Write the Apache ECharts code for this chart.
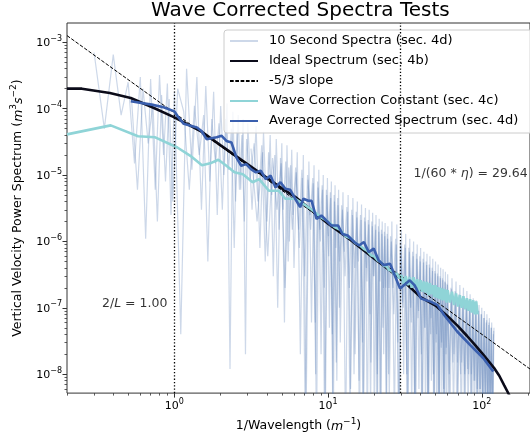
<!DOCTYPE html>
<html>
<head>
<meta charset="utf-8">
<script src="https://cdn.jsdelivr.net/npm/echarts@6/dist/echarts.min.js"></script>
<style>html,body{margin:0;padding:0;background:#fff}#c{width:530px;height:438px}</style>
</head>
<body>
<div id="c"></div>
<script>
// ---------------- data ----------------
const X_MIN = 0.2, X_MAX = 206;
const Y_MIN = 5.2e-9, Y_MAX = 1.95e-3;
const xMajor = [1, 10, 100];
const xMinor = [0.2,0.3,0.4,0.5,0.6,0.7,0.8,0.9,2,3,4,5,6,7,8,9,20,30,40,50,60,70,80,90,200];
const yMajor = [1e-8,1e-7,1e-6,1e-5,1e-4,1e-3];
const yMinor = [6e-9,7e-9,8e-9,9e-9,2e-8,3e-8,4e-8,5e-8,6e-8,7e-8,8e-8,9e-8,2e-7,3e-7,4e-7,5e-7,6e-7,7e-7,8e-7,9e-7,
  2e-6,3e-6,4e-6,5e-6,6e-6,7e-6,8e-6,9e-6,2e-5,3e-5,4e-5,5e-5,6e-5,7e-5,8e-5,9e-5,2e-4,3e-4,4e-4,5e-4,6e-4,7e-4,8e-4,9e-4];

// 10 second spectra (three overlaid spectra)
const specAx = [0.3,0.35,0.4,0.45,0.5,0.55,0.6,0.65,0.7,0.75,0.8,0.85,0.9,0.95,1.0,
  1.1,1.2,1.3,1.4,1.5,1.6,1.7,1.8,1.9,2.0,2.1,2.2,2.3,2.4,2.5,2.6,2.7,2.8,2.9,3.0,
  3.2,3.4,3.6,3.8,4.0,4.2,4.4,4.6,4.8,5.0,5.2,5.4,5.6,5.8,6.0,
  6.3,6.6,6.9,7.2,7.5,7.8,8.1,8.4,8.7,9.0,9.3,9.6,9.9,10.2,10.5,10.8,11.1,11.4,11.7,12.0,
  12.5,13,13.5,14,14.5,15,15.5,16,16.5,17,17.5,18,18.5,19,19.5,20,20.5,21,21.5,22,22.5,23,23.5,24,24.5,25,
  26,27,28,29,30,31,32,33,34,35,36,37,38,39,40,41,42,43,44,45,46,47,48,49,50,51,52,53,54,55,56,57,58,59,60,
  62,64,66,68,70,72,74,76,78,80,82,84,86,88,90,92,94,96,98,100,102,104,106,108,110,112,114,116,118,120];
const specAy = [7e-4,5e-5,6.5e-4,8e-5,2.5e-4,1.5e-5,3e-4,1.1e-6,2.8e-4,6e-6,3.2e-4,2e-5,2.4e-4,2.5e-6,1.8e-4,
  4e-8,4e-4,1.2e-5,3e-4,3e-6,2.2e-4,8e-6,1.8e-4,2.5e-6,1.1e-4,1e-5,1.2e-4,1.2e-8,9e-5,4e-6,8e-5,6e-6,7e-5,2e-8,6e-5,
  3e-6,5.5e-5,8e-7,4.5e-5,2e-6,4e-5,3e-7,3.5e-5,1.5e-6,3e-5,6e-8,2.8e-5,1e-6,2.4e-5,4e-7,
  2.2e-5,2e-8,2e-5,3e-9,1.6e-5,6e-8,1.4e-5,1e-9,1.2e-5,2e-8,1e-5,2e-9,9e-6,5e-8,8e-6,1e-9,7e-6,8e-9,6e-6,3e-8,
  5.5e-6,1e-9,5e-6,6e-9,4.5e-6,2e-8,4e-6,1e-9,3.6e-6,3e-9,3.2e-6,1e-9,3e-6,1.5e-8,2.7e-6,2e-9,2.5e-6,5e-9,2.2e-6,1e-9,2e-6,2e-8,1.9e-6,2e-9,1.7e-6,4e-9,
  2e-6,2e-9,1.8e-6,1e-9,1.5e-6,1e-8,1.3e-6,1e-9,1.1e-6,3e-9,1e-6,1e-9,9e-7,6e-9,8e-7,1e-9,7e-7,4e-9,6.5e-7,1e-9,6e-7,8e-9,5.5e-7,1e-9,5e-7,2e-9,4.5e-7,1e-9,4e-7,5e-9,3.8e-7,1e-9,3.5e-7,1e-9,3.2e-7,
  2e-9,2.8e-7,2e-8,2.5e-7,4e-9,2.2e-7,1.5e-8,2e-7,3e-9,1.8e-7,1e-8,1.6e-7,2e-9,1.4e-7,8e-9,1.3e-7,2e-9,1.1e-7,6e-9,1e-7,1e-9,9e-8,4e-9,8e-8,1e-9,7e-8,3e-9,6e-8,1e-9,5e-8];
const specBx = [0.525,0.575,0.625,0.675,0.725,0.775,0.825,0.875,0.925,0.975,1.05,
  1.15,1.25,1.35,1.45,1.55,1.65,1.75,1.85,1.95,2.05,2.15,2.25,2.35,2.45,2.55,2.65,2.75,2.85,2.95,
  3.1,3.3,3.5,3.7,3.9,4.1,4.3,4.5,4.7,4.9,5.1,5.3,5.5,5.7,5.9,
  6.15,6.45,6.75,7.05,7.35,7.65,7.95,8.25,8.55,8.85,9.15,9.45,9.75,10.05,10.35,10.65,10.95,11.25,11.55,11.85,
  12.25,12.75,13.25,13.75,14.25,14.75,15.25,15.75,16.25,16.75,17.25,17.75,18.25,18.75,19.25,19.75,20.25,20.75,21.25,21.75,22.25,22.75,23.25,23.75,24.25,24.75,
  25.5,26.5,27.5,28.5,29.5,30.5,31.5,32.5,33.5,34.5,35.5,36.5,37.5,38.5,39.5,40.5,41.5,42.5,43.5,44.5,45.5,46.5,47.5,48.5,49.5,50.5,51.5,52.5,53.5,54.5,55.5,56.5,57.5,58.5,59.5,
  61,63,65,67,69,71,73,75,77,79,81,83,85,87,89,91,93,95,97,99,101,103,105,107,109,111,113,115,117,119];
const specBy = [1.5e-4,6e-6,2e-4,3e-5,1.2e-4,2e-6,1.6e-4,8e-6,1.4e-4,4e-6,2e-4,
  9e-5,6e-6,1.1e-4,2e-5,8e-5,5e-7,7e-5,1.5e-5,6e-5,3e-6,7e-5,1.2e-5,5e-5,8e-7,4.5e-5,6e-6,4e-5,2e-6,3.5e-5,
  8e-6,3e-5,4e-6,2.8e-5,5e-7,2.2e-5,5e-6,2e-5,1e-7,1.8e-5,3e-6,1.6e-5,5e-7,1.4e-5,2.5e-6,
  1.3e-5,1.5e-6,1.2e-5,3e-7,1e-5,2.5e-6,9e-6,6e-8,8e-6,1.5e-6,7e-6,2e-7,6e-6,1.2e-6,5.5e-6,4e-8,5e-6,8e-7,4.5e-6,1e-7,
  3.5e-6,7e-7,3.3e-6,2e-7,3e-6,1e-8,2.8e-6,5e-7,2.5e-6,3e-8,2.3e-6,4e-7,2.1e-6,8e-8,2e-6,3e-7,1.8e-6,2e-9,1.7e-6,2.5e-7,1.5e-6,5e-8,1.4e-6,2e-7,1.3e-6,1e-8,
  1.2e-6,2e-7,1.1e-6,3e-8,1e-6,1.2e-7,9e-7,1e-8,8e-7,1e-7,7e-7,5e-9,6.5e-7,7e-8,6e-7,2e-8,5.5e-7,5e-8,5e-7,2e-9,4.5e-7,4e-8,4e-7,1e-8,3.6e-7,3e-8,3.3e-7,3e-9,3e-7,2.5e-8,2.8e-7,6e-9,2.5e-7,2e-8,2.3e-7,
  5e-9,2e-7,1.5e-8,1.8e-7,2e-9,1.6e-7,1e-8,1.5e-7,4e-9,1.3e-7,1.2e-8,1.2e-7,3e-9,1.1e-7,8e-9,1e-7,2e-9,9e-8,6e-9,8e-8,2e-9,7e-8,5e-9,6e-8,1e-9,5.5e-8,3e-9,5e-8,1e-9,4e-8];
const specCx = [3.15,3.45,3.75,4.05,4.35,4.65,4.95,5.25,5.55,5.85,
  6.2,6.5,6.8,7.1,7.4,7.7,8.0,8.3,8.6,8.9,9.2,9.5,9.8,10.1,10.4,10.7,11.0,11.3,11.6,11.9,
  12.4,12.9,13.4,13.9,14.4,14.9,15.4,15.9,16.4,16.9,17.4,17.9,18.4,18.9,19.4,19.9,20.4,20.9,21.4,21.9,22.4,22.9,23.4,23.9,24.4,24.9,
  25.8,26.8,27.8,28.8,29.8,30.8,31.8,32.8,33.8,34.8,35.8,36.8,37.8,38.8,39.8,40.8,41.8,42.8,43.8,44.8,45.8,46.8,47.8,48.8,49.8,50.8,51.8,52.8,53.8,54.8,55.8,56.8,57.8,58.8,59.8,
  61.5,63.5,65.5,67.5,69.5,71.5,73.5,75.5,77.5,79.5,81.5,83.5,85.5,87.5,89.5,91.5,93.5,95.5,97.5,99.5,101.5,103.5,105.5,107.5,109.5,111.5,113.5,115.5,117.5,119.5];
const specCy = [2.5e-5,2e-6,2.2e-5,6e-7,1.8e-5,3e-6,1.5e-5,2e-7,1.3e-5,1.5e-6,
  1.1e-5,8e-7,9e-6,2e-9,8.5e-6,1.5e-6,7.5e-6,1e-8,6.5e-6,1e-6,6e-6,1e-9,5e-6,6e-7,4.5e-6,5e-9,4e-6,1.5e-8,3.5e-6,5e-7,
  3e-6,3e-7,2.8e-6,2e-9,2.5e-6,4e-7,2.3e-6,8e-9,2.1e-6,1e-9,2e-6,2.5e-7,1.8e-6,3e-9,1.7e-6,3e-7,1.5e-6,1e-8,1.4e-6,1e-9,1.3e-6,2e-7,1.2e-6,4e-9,1.1e-6,2e-7,
  1e-6,8e-8,9e-7,1e-9,8.5e-7,1e-7,8e-7,2e-9,7e-7,6e-8,6e-7,1e-9,5.5e-7,9e-8,5e-7,1e-9,4.8e-7,5e-8,4.4e-7,2e-9,4e-7,7e-8,3.6e-7,1e-9,3.3e-7,4e-8,3e-7,2e-9,2.8e-7,3e-8,2.6e-7,1e-9,2.4e-7,2.5e-8,2.2e-7,
  1e-8,1.9e-7,3e-9,1.7e-7,1.5e-8,1.5e-7,2e-9,1.4e-7,1e-8,1.3e-7,3e-9,1.2e-7,1e-8,1.1e-7,2e-9,1e-7,6e-9,9e-8,1e-9,8e-8,5e-9,7e-8,2e-9,6.5e-8,4e-9,6e-8,1e-9,5e-8,3e-9,4.5e-8];

// ideal spectrum
const idealX = [0.2,0.25,0.38,0.52,0.73,1.0,1.5,2,3,5,6.1,10,14,20,30,40,50,60,70,80,90,100,110,120,130,140,150,170];
const idealY = [2.0e-4,2.0e-4,1.72e-4,1.45e-4,1.03e-4,7.4e-5,4.5e-5,2.8e-5,1.45e-5,6.3e-6,4.7e-6,1.85e-6,1.05e-6,5.5e-7,2.7e-7,1.45e-7,1.08e-7,7.5e-8,5.3e-8,3.8e-8,2.8e-8,2.1e-8,1.6e-8,1.25e-8,9.5e-9,6.8e-9,5e-9,2.5e-9];

// -5/3 slope reference line (end points)
const slopeX = [0.2, 206];
const slopeY = [1.26e-3, 1.2e-8];

// wave correction constant
const waveX = [0.2,0.385,0.58,0.75,1.045,1.27,1.51,1.71,1.93,2.18,2.46,2.79,3.23,3.56,4.12,4.77,5.27,6.1,
  7,8,9,10,11,12,13,14,15,16,17,18,19,20,21,22,23,24,25,26,27,28,29,
  30,31,32,33,34,35,36,37,38,39,40,41,42,43,44,45,46,47,48,49,50,51,52,53,54,55,56,57,58,59,60,
  62,64,66,68,70,72,74,76,78,80,82,84,86,88,90,92,94];
const waveY = [4.1e-5,5.6e-5,3.85e-5,3.7e-5,2.6e-5,1.95e-5,1.4e-5,1.5e-5,1.7e-5,1.38e-5,1.1e-5,1.03e-5,7.8e-6,8.7e-6,5.8e-6,5.8e-6,4.4e-6,4.4e-6,
  3.6e-6,2.9e-6,2.3e-6,2.0e-6,1.65e-6,1.5e-6,1.2e-6,1.12e-6,9.5e-7,8.8e-7,7.8e-7,7.2e-7,6.2e-7,5.9e-7,5.2e-7,4.9e-7,4.3e-7,4.2e-7,3.7e-7,3.6e-7,3.2e-7,3.3e-7,2.8e-7,
  3.1e-7,2.3e-7,3.0e-7,2.2e-7,2.9e-7,2.0e-7,2.9e-7,2.0e-7,2.7e-7,1.8e-7,2.6e-7,1.75e-7,2.5e-7,1.7e-7,2.45e-7,1.55e-7,2.35e-7,1.6e-7,2.2e-7,1.45e-7,2.2e-7,1.4e-7,2.05e-7,1.35e-7,2.0e-7,1.3e-7,1.95e-7,1.3e-7,1.9e-7,1.2e-7,1.85e-7,
  1.2e-7,1.75e-7,1.1e-7,1.65e-7,1.05e-7,1.55e-7,1.0e-7,1.5e-7,9.5e-8,1.4e-7,9e-8,1.35e-7,8.5e-8,1.3e-7,8e-8,1.25e-7,8e-8];

// average corrected spectrum
const avgX = [0.52,0.71,0.85,1.0,1.045,1.15,1.40,1.50,1.62,1.88,2.03,2.18,2.35,2.53,2.72,2.93,3.15,3.39,3.65,3.93,4.23,4.55,4.90,5.27,5.67,6.11,6.58,6.9,7.43,7.81,8.41,9.05,9.73,10.5,11.6,12.4,13.4,14.8,15.9,17.1,18.4,19.8,21.3,23.0,25.3,29.4,34.0,36.6,40.3,46.8,51.6,56.9,69.2,84.2,102.5,118.8];
const avgY = [1.29e-4,1.15e-4,1.05e-4,9.1e-5,7.8e-5,5.9e-5,5.2e-5,4.6e-5,3.47e-5,3.7e-5,3.9e-5,3.27e-5,3.1e-5,1.85e-5,1.38e-5,1.46e-5,1.23e-5,1.1e-5,1.16e-5,8.7e-6,9.8e-6,6.5e-6,7.8e-6,6.2e-6,6.0e-6,4.4e-6,3.28e-6,4.4e-6,4.1e-6,4.1e-6,2.19e-6,2.46e-6,2.07e-6,1.74e-6,1.74e-6,1.3e-6,1.23e-6,9.8e-7,8.7e-7,9.8e-7,6.9e-7,7.8e-7,5.2e-7,4.4e-7,4.6e-7,1.95e-7,2.6e-7,2.18e-7,1.38e-7,1.23e-7,1.1e-7,7.8e-8,4.4e-8,2.75e-8,1.74e-8,1.1e-8];

// reference lines and annotations
const vlines = [1.0, 29.64];
const annotX = [0.9, 36.0];
const annotY = [1.2e-7, 1.1e-5];
const annotText = ['{n|2/}{i|L}{n| = 1.00}', '{n|1/(60 * }{i|\u03b7}{n|) = 29.64}'];

const seriesNames = ['10 Second Spectra (sec. 4d)', 'Ideal Spectrum (sec. 4b)', '-5/3 slope',
  'Wave Correction Constant (sec. 4c)', 'Average Corrected Spectrum (sec. 4d)'];

// ---------------- chart ----------------
const FONT = 'DejaVu Sans';
const zip = (xs, ys) => xs.map((x, i) => [x, ys[i]]);
function supFmt(v) {
  const e = Math.round(Math.log10(v));
  return '{b|10}{s|' + (e < 0 ? '\u2212' + (-e) : String(e)) + '}';
}
const tickRich = {
  b: {fontSize: 11, fontFamily: FONT, color: '#000', verticalAlign: 'bottom', lineHeight: 13},
  s: {fontSize: 8, fontFamily: FONT, color: '#000', verticalAlign: 'bottom', lineHeight: 9, padding: [0, 0, 6, 0]}
};
const nameRich = {
  n: {fontSize: 12.5, fontFamily: FONT, color: '#000', verticalAlign: 'bottom', lineHeight: 15},
  i: {fontSize: 12.5, fontFamily: FONT, fontStyle: 'italic', color: '#000', verticalAlign: 'bottom', lineHeight: 15},
  s: {fontSize: 9, fontFamily: FONT, color: '#000', verticalAlign: 'bottom', lineHeight: 10, padding: [0, 0, 7, 0]}
};
const AX = '#333';
function majorAxis(min, max, vals, extra) {
  return Object.assign({
    type: 'log', logBase: 10, min: min, max: max,
    axisLine: {show: false},
    axisTick: {show: true, length: 4.5, lineStyle: {color: AX, width: 1}, customValues: vals},
    axisLabel: {show: true, customValues: vals, formatter: supFmt, rich: tickRich, margin: 6},
    splitLine: {show: false}, minorTick: {show: false}
  }, extra);
}
function minorAxis(min, max, vals, pos) {
  return {
    type: 'log', logBase: 10, min: min, max: max, position: pos,
    axisLine: {show: false},
    axisTick: {show: true, length: 2.5, lineStyle: {color: AX, width: 0.8}, customValues: vals},
    axisLabel: {show: false}, splitLine: {show: false}
  };
}

const chart = echarts.init(document.getElementById('c'), null, {renderer: 'canvas'});
const LIGHT = '#4c72b0', LIGHT_OP = 0.28;
const lightStyle = {color: LIGHT, width: 1.2, opacity: LIGHT_OP};
function lightSeries(xs, ys) {
  return {name: seriesNames[0], type: 'line', symbol: 'none', data: zip(xs, ys), lineStyle: lightStyle,
    itemStyle: {color: LIGHT, opacity: LIGHT_OP}, z: 1};
}
chart.setOption({
  animation: false,
  backgroundColor: '#fff',
  textStyle: {fontFamily: FONT},
  title: {
    text: 'Wave Corrected Spectra Tests', left: 151, top: 1, padding: 0,
    textStyle: {fontSize: 20, fontWeight: 'normal', color: '#000', fontFamily: FONT}
  },
  grid: {left: 67, top: 23, right: -9, bottom: 43, show: true, borderColor: AX, borderWidth: 1, containLabel: false},
  legend: {
    data: seriesNames, orient: 'vertical', left: 224, top: 30,
    padding: [4, 20, 5, 5], itemWidth: 28, itemHeight: 14, itemGap: 6,
    itemStyle: {opacity: 0, borderWidth: 0},
    backgroundColor: 'rgba(255,255,255,0.8)', borderColor: '#cccccc', borderWidth: 1, borderRadius: 3,
    textStyle: {fontSize: 13, color: '#000', fontFamily: FONT, lineHeight: 14, padding: [0, 0, 0, 6]},
    selectedMode: false
  },
  xAxis: [
    majorAxis(X_MIN, X_MAX, xMajor, {
      position: 'bottom', name: '1/Wavelength ({i|m}{s|\u22121})', nameLocation: 'middle', nameGap: 22,
      nameTextStyle: {rich: nameRich, fontSize: 12.5, color: '#000'}
    }),
    minorAxis(X_MIN, X_MAX, xMinor, 'bottom')
  ],
  yAxis: [
    majorAxis(Y_MIN, Y_MAX, yMajor, {
      position: 'left', name: 'Vertical Velocity Power Spectrum ({i|m}{s|3}{i|s}{s|\u22122})', nameLocation: 'middle', nameGap: 40,
      nameTextStyle: {rich: nameRich, fontSize: 12.5, color: '#000'},
      axisLabel: {show: true, customValues: yMajor, formatter: supFmt, rich: tickRich, margin: 5}
    }),
    minorAxis(Y_MIN, Y_MAX, yMinor, 'left')
  ],
  series: [
    lightSeries(specAx, specAy),
    lightSeries(specBx, specBy),
    lightSeries(specCx, specCy),
    {name: seriesNames[1], type: 'line', symbol: 'none', data: zip(idealX, idealY), lineStyle: {color: '#0b0b19', width: 2.6}, itemStyle: {color: '#0b0b19'}, z: 2},
    {name: seriesNames[2], type: 'line', symbol: 'none', data: zip(slopeX, slopeY), lineStyle: {color: '#000', width: 1, type: [3.7, 1.6]}, itemStyle: {color: '#000'}, z: 3},
    {name: seriesNames[3], type: 'line', symbol: 'none', data: zip(waveX, waveY), lineStyle: {color: '#8fd4d7', width: 2.6}, itemStyle: {color: '#8fd4d7'}, z: 4},
    {name: seriesNames[4], type: 'line', symbol: 'none', data: zip(avgX, avgY), lineStyle: {color: '#3a5fae', width: 2.6}, itemStyle: {color: '#3a5fae'}, z: 5,
      markLine: {silent: true, symbol: ['none', 'none'], label: {show: false},
        lineStyle: {color: '#000', width: 1.3, type: [1.3, 2]},
        data: vlines.map(v => ({xAxis: v}))}},
    {name: 'annotations', type: 'scatter', symbolSize: 0, silent: true, z: 6,
      data: annotX.map((x, i) => ({value: [x, annotY[i]], label: {align: i === 0 ? 'right' : 'left'}})),
      label: {show: true, position: [0, 0], verticalAlign: 'middle', formatter: p => annotText[p.dataIndex], rich: nameRich}}
  ]
});
</script>
</body>
</html>
